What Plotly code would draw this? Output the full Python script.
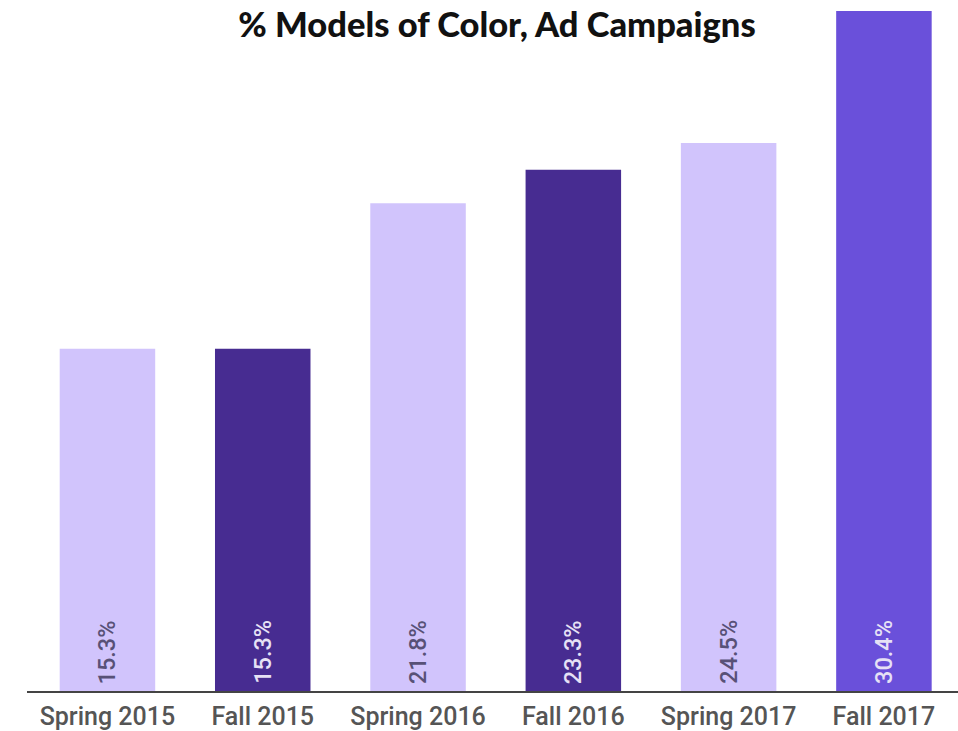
import plotly.graph_objects as go

categories = ["Spring 2015", "Fall 2015", "Spring 2016", "Fall 2016", "Spring 2017", "Fall 2017"]
values = [15.3, 15.3, 21.8, 23.3, 24.5, 30.4]
bar_colors = ["#D1C4FC", "#472C91", "#D1C4FC", "#472C91", "#D1C4FC", "#6A50DA"]
label_colors = ["#585177", "#E6E1F5", "#585177", "#E6E1F5", "#585177", "#E6E1F5"]

fig = go.Figure()
fig.add_trace(go.Bar(
    x=categories, y=values, marker=dict(color=bar_colors, line=dict(width=0)),
    width=0.615, hoverinfo="skip",
))

for c, v, lc in zip(categories, values, label_colors):
    fig.add_annotation(
        x=c, y=0, xref="x", yref="y", text=f"{v}%", showarrow=False,
        textangle=-90, yanchor="bottom", xanchor="center", yshift=5,
        font=dict(family="Roboto", size=23.5, color=lc, weight=500),
    )

fig.update_layout(
    width=958, height=731,
    margin=dict(l=27, r=0, t=0, b=40),
    paper_bgcolor="white", plot_bgcolor="white",
    showlegend=False,
    title=dict(
        text="% Models of Color, Ad Campaigns",
        x=497 / 958, xanchor="center", y=1 - 25 / 731, yanchor="middle",
        font=dict(family="Lato", size=34.5, color="#111111", weight=900),
    ),
    xaxis=dict(
        range=[-0.518, 5.477], showline=True, linecolor="#444444", linewidth=2,
        ticks="", showgrid=False, zeroline=False, ticklabelstandoff=2,
        tickfont=dict(family="Roboto", size=25, color="#555555", weight=500),
    ),
    yaxis=dict(range=[0, 30.89], visible=False, showgrid=False, zeroline=False),
)

fig.write_html("out.html")
